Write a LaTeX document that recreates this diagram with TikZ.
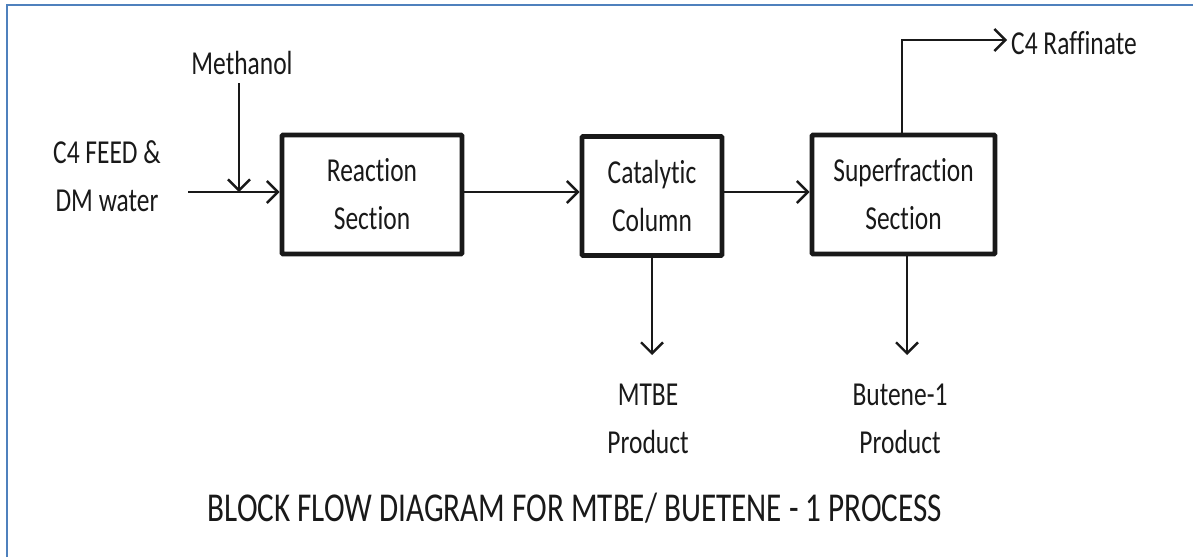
\documentclass[tikz,border=0pt]{standalone}
\usepackage{fontspec}
\setmainfont{Carlito}[FakeStretch=0.76, Ligatures={NoCommon}]
\usetikzlibrary{arrows.meta}
\definecolor{frameblue}{RGB}{79,129,189}
\definecolor{ink}{RGB}{25,25,25}
\tikzset{
  x=1pt, y=-1pt,
  unitbox/.style={draw=ink, line width=4.8pt, rounded corners=1pt, fill=white,
    align=center, inner sep=0pt, minimum height=119pt,
    font=\fontsize{33.5}{48}\selectfont, text=ink},
  lbl/.style={align=center, inner sep=0pt, font=\fontsize{33.5}{48}\selectfont, text=ink},
  flow/.style={draw=ink, line width=2.4pt,
    -{Straight Barb[length=11pt,width=22pt,line width=2.4pt]}},
}
\begin{document}
\begin{tikzpicture}
\useasboundingbox (0,0) rectangle (1193,557);
% frame along the top and left edges
\draw[frameblue, line width=2pt] (7,557) -- (7,5) -- (1193,5);

% process blocks
\node[unitbox, minimum width=180pt] (rx) at (372,194.5) {Reaction\\Section};
\node[unitbox, minimum width=140pt] (cc) at (652,196) {Catalytic\\Column};
\node[unitbox, minimum width=183pt] (sf) at (903.5,194.5) {Superfraction\\Section};

% stream labels
\node[lbl] (feed) at (107,176) {C4 FEED \&\\DM water};
\node[lbl] (meoh) at (242,63) {Methanol};
\node[lbl, anchor=west] (raff) at (1011,43) {C4 Raffinate};
\node[lbl] (mtbe) at (648,419) {MTBE\\Product};
\node[lbl] (but) at (900,419) {Butene-1\\Product};
\node[text=ink, inner sep=0pt, font=\fontsize{41}{46}\selectfont] (title) at (575,508)
  {BLOCK FLOW DIAGRAM FOR MTBE/ BUETENE - 1 PROCESS};

% streams
\coordinate (feedstart) at (188,192);
\coordinate (mix) at (239,192);
\coordinate (meohtop) at (239,83);
\coordinate (rafftop) at (902,40);
\coordinate (raffend) at (1007,40);
\coordinate (mtbeend) at (652,355);
\coordinate (butend) at (907,355);

\draw[flow] (feedstart) -- (feedstart -| rx.west);
\draw[flow] (meohtop) -- (mix);
\draw[flow] (rx.east |- mix) -- (cc.west |- mix);
\draw[flow] (cc.east |- mix) -- (sf.west |- mix);
\draw[flow] (rafftop |- sf.north) -- (rafftop) -- (raffend);
\draw[flow] (cc.south) -- (mtbeend);
\draw[flow] (butend |- sf.south) -- (butend);
\end{tikzpicture}
\end{document}
